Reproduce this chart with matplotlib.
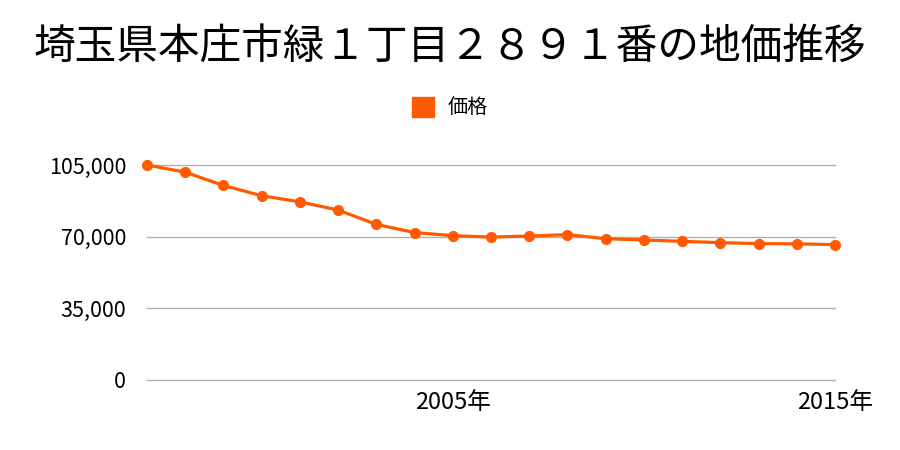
import matplotlib
matplotlib.use("Agg")
import matplotlib.pyplot as plt
from matplotlib.patches import Patch
from matplotlib.ticker import FuncFormatter

plt.rcParams['font.family'] = ['Noto Sans CJK JP', 'DejaVu Sans']

title = "埼玉県本庄市緑１丁目２８９１番の地価推移"
series_name = "価格"
years = list(range(1997, 2016))
prices = [105000, 101500, 95000, 90000, 87000, 83000, 76000, 72000, 70500, 69800,
          70300, 71000, 69000, 68400, 67700, 67100, 66600, 66500, 66100]
xtick_years = [2005, 2015]
xtick_labels = ["2005年", "2015年"]
yticks = [0, 35000, 70000, 105000]

color = "#FF5A00"

fig = plt.figure(figsize=(9, 4.5), dpi=100)
ax = fig.add_axes([147/900, 1 - 380/450, (835-147)/900, (380-165)/450])

ax.plot(years, prices, color=color, lw=2.3, marker='o', markersize=7, zorder=3, clip_on=False)

ax.set_xlim(1997, 2015)
ax.set_ylim(0, 105000)
ax.set_yticks(yticks)
ax.yaxis.set_major_formatter(FuncFormatter(lambda v, p: f"{int(v):,}"))
ax.set_xticks(xtick_years)
ax.set_xticklabels(xtick_labels)
ax.tick_params(axis='both', length=0, colors='black')
ax.tick_params(axis='y', pad=15, labelsize=15.5)
ax.tick_params(axis='x', pad=8, labelsize=17)
ax.grid(axis='y', color='#b0b0b0', lw=1)
for gl in ax.get_ygridlines():
    gl.set_clip_on(False)
ax.set_axisbelow(True)
for s in ax.spines.values():
    s.set_visible(False)
ax.patch.set_alpha(0)

fig.text(0.5, 1 - 47/450, title, ha='center', va='center', fontsize=30)
leg = fig.legend(handles=[Patch(color=color, label=series_name)], loc='center',
                 bbox_to_anchor=(0.5, 1 - 108/450), frameon=False, fontsize=14.5,
                 handlelength=1.1, handleheight=1.1, handletextpad=0.7)

fig.savefig("out.png", dpi=100, facecolor='white')
